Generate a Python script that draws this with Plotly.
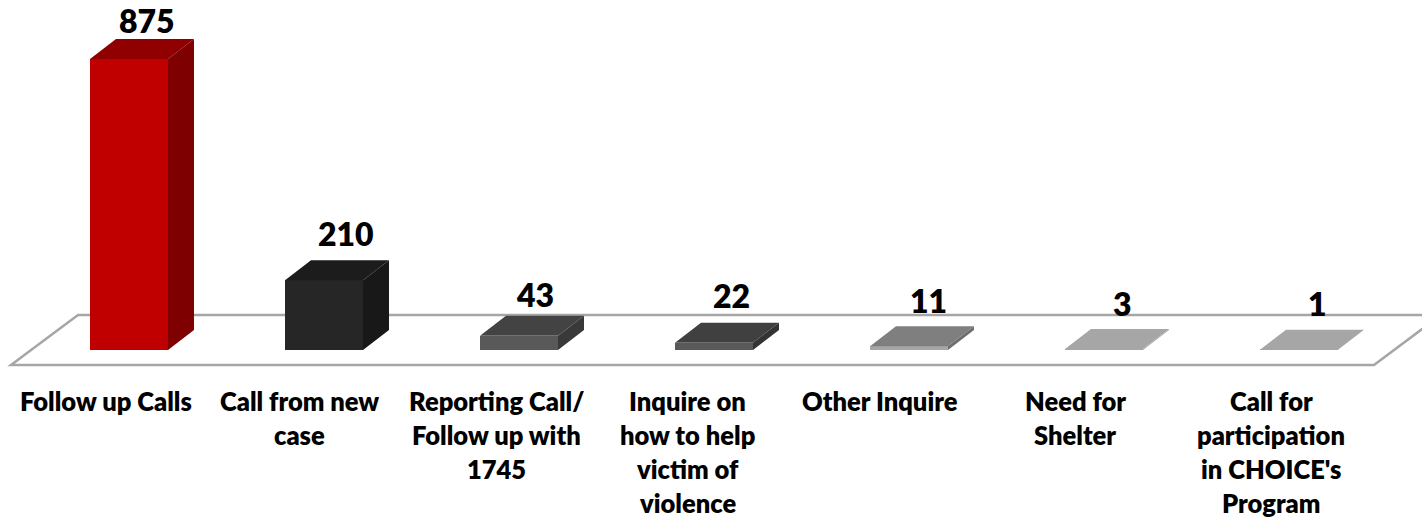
import plotly.graph_objects as go

categories = ["Follow up Calls", "Call from new<br>case", "Reporting Call/<br>Follow up with<br>1745",
              "Inquire on<br>how to help<br>victim of<br>violence", "Other Inquire", "Need for<br>Shelter",
              "Call for<br>participation<br>in CHOICE's<br>Program"]
values = [875, 210, 43, 22, 11, 3, 1]

front_colors = ["#C00000", "#262626", "#595959", "#595959", "#A6A6A6", "#A6A6A6", "#A6A6A6"]
top_colors = ["#900000", "#1C1C1C", "#434343", "#404040", "#7F7F7F", "#A6A6A6", "#A6A6A6"]
side_colors = ["#7F0000", "#181818", "#393939", "#333333", "#6E6E6E", "#A6A6A6", "#A6A6A6"]
value_shift_y = [19, 27, 21, 27, 26, 26, 26]
value_shift_x = [18, 22, 16, 17, 19, 18, 18]
cat_shift_x = [-23.5, -25, -23, -27, -29, -29, -28]

W, H = 1422, 520
PX_X = 195.0            # pixels per category
PX_Y = 291.0 / 875.0    # pixels per call
X0, Y0 = 129.0, 350.0   # pixel position of the first category at value 0
BAR_W = 78 / PX_X
DX, DY = 26 / PX_X, 20 / PX_Y

fig = go.Figure()
xs = list(range(len(values)))

for i, v in zip(xs, values):
    l, r = i - BAR_W / 2, i + BAR_W / 2
    fig.add_trace(go.Scatter(x=[l, l + DX, r + DX, r, l], y=[v, v + DY, v + DY, v, v], mode="lines",
                             fill="toself", fillcolor=top_colors[i], line=dict(width=0),
                             hoverinfo="skip", showlegend=False))
    fig.add_trace(go.Scatter(x=[r, r + DX, r + DX, r, r], y=[0, DY, v + DY, v, 0], mode="lines",
                             fill="toself", fillcolor=side_colors[i], line=dict(width=0),
                             hoverinfo="skip", showlegend=False))

fig.add_trace(go.Bar(x=xs, y=values, width=BAR_W, marker=dict(color=front_colors, line=dict(width=0)),
                     showlegend=False))

# floor
fl = -(365 - Y0) / PX_Y
bk = (Y0 - 315) / PX_Y
fx = lambda p: (p - X0) / PX_X
fig.add_shape(type="path", layer="below", fillcolor="white", line=dict(color="#A6A6A6", width=2.5),
              path=f"M {fx(11)} {fl} L {fx(78)} {bk} L {fx(1441)} {bk} L {fx(1374)} {fl} Z")

for i, v in zip(xs, values):
    fig.add_annotation(x=i + value_shift_x[i] / PX_X, y=v + DY, yshift=value_shift_y[i], text=str(v),
                       showarrow=False, yanchor="middle",
                       font=dict(family="Lato", size=32, color="black", weight=800))
    for k, line in enumerate(categories[i].split("<br>")):
        fig.add_annotation(x=i + cat_shift_x[i] / PX_X, y=0, yshift=-(51 + 34 * k), text=line,
                           showarrow=False, yanchor="middle",
                           font=dict(family="Lato", size=25.5, color="black", weight=800))

fig.update_xaxes(visible=False, range=[-X0 / PX_X, (W - X0) / PX_X])
fig.update_yaxes(visible=False, range=[-(H - Y0) / PX_Y, Y0 / PX_Y])
fig.update_layout(width=W, height=H, margin=dict(l=0, r=0, t=0, b=0), paper_bgcolor="white",
                  plot_bgcolor="white", bargap=0)
fig.write_html("out.html", config={"displayModeBar": False}, post_script="document.body.style.margin='0';")
